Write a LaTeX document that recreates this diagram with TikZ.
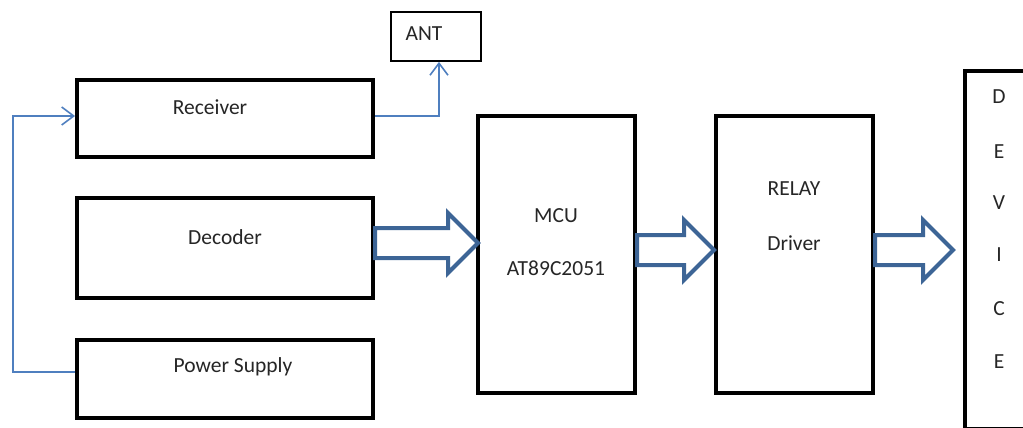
\documentclass[tikz,border=0pt]{standalone}
\usepackage{fontspec}
\setmainfont{Carlito}
\usetikzlibrary{arrows.meta,calc}
\definecolor{thinblue}{HTML}{4F7FBF}
\definecolor{fatblue}{HTML}{3D6596}
\definecolor{txtgray}{HTML}{262626}
\tikzset{
  box/.style={draw=black, line width=4pt, fill=white, inner sep=0pt},
  antbox/.style={draw=black, line width=1.8pt, inner sep=0pt},
  lbl/.style={text=txtgray, font=\fontsize{21.5}{25}\selectfont, inner sep=0pt},
  wire/.style={draw=thinblue, line width=1.6pt, -{Straight Barb[length=12pt,width=18pt,line width=1.6pt]}},
  fatarr/.style={draw=fatblue, fill=white, line width=4pt, line join=miter}
}
% #1 tail coordinate, #2 tip coordinate
\newcommand\fatarrowdraw[2]{%
  \draw[fatarr] ($(#1)+(0,15)$) -- ($(#2)+(-30,15)$) -- ($(#2)+(-30,30)$) -- (#2)
    -- ($(#2)+(-30,-30)$) -- ($(#2)+(-30,-15)$) -- ($(#1)+(0,-15)$) -- cycle;}
\begin{document}
\begin{tikzpicture}[x=1pt,y=-1pt]
\useasboundingbox (0,0) rectangle (1023,428);
% boxes
\node[box, minimum width=296pt, minimum height=77pt] (rx) at (225,118.5) {};
\node[box, minimum width=296pt, minimum height=100pt] (dec) at (225,248) {};
\node[box, minimum width=296pt, minimum height=78pt] (ps) at (225,379) {};
\node[antbox, minimum width=90pt, minimum height=49pt] (ant) at (436,36.5) {};
\node[box, minimum width=157pt, minimum height=277pt] (mcu) at (556.5,254.5) {};
\node[box, minimum width=157pt, minimum height=277pt] (rel) at (794.5,254.5) {};
\node[box, minimum width=70pt, minimum height=357.5pt] (dev) at (1000,249.75) {};
% labels
\node[lbl] (rxt) at (210,107) {Receiver};
\node[lbl] (dect) at (225,237) {Decoder};
\node[lbl] (pst) at (233,367) {Power Supply};
\node[lbl] (antt) at (424,34) {ANT};
\node[lbl] (mcut) at (556,216) {MCU};
\node[lbl] (mcut2) at (556,268) {AT89C2051};
\node[lbl] (relt) at (794,189) {RELAY};
\node[lbl] (relt2) at (794,243) {Driver};
\node[lbl] (d1) at (999,97) {D};
\node[lbl] (d2) at (999,152) {E};
\node[lbl] (d3) at (999,203) {V};
\node[lbl] (d4) at (999,255) {I};
\node[lbl] (d5) at (999,309) {C};
\node[lbl] (d6) at (999,362) {E};
% thin connectors
\coordinate (rxa) at ([yshift=2.5pt]rx.east);
\coordinate (antb) at ([xshift=3pt]ant.south);
\draw[wire] (rxa) -| (antb);
\coordinate (psa) at ([yshift=7pt]ps.west);
\coordinate (rxb) at ([yshift=2.5pt]rx.west);
\coordinate (bend) at (13,0);
\draw[wire] (psa) -- (bend |- psa) |- (rxb);
% fat arrows
\coordinate (t1) at ([yshift=5pt]dec.east);
\coordinate (h1) at ([xshift=2pt]mcu.west |- t1);
\fatarrowdraw{t1}{h1}
\coordinate (t2) at ([yshift=4.5pt]mcu.east);
\coordinate (h2) at (rel.west |- t2);
\fatarrowdraw{t2}{h2}
\coordinate (t3) at ([yshift=4.5pt]rel.east);
\coordinate (h3) at ([xshift=-10pt]dev.west |- t3);
\fatarrowdraw{t3}{h3}
\end{tikzpicture}
\end{document}
